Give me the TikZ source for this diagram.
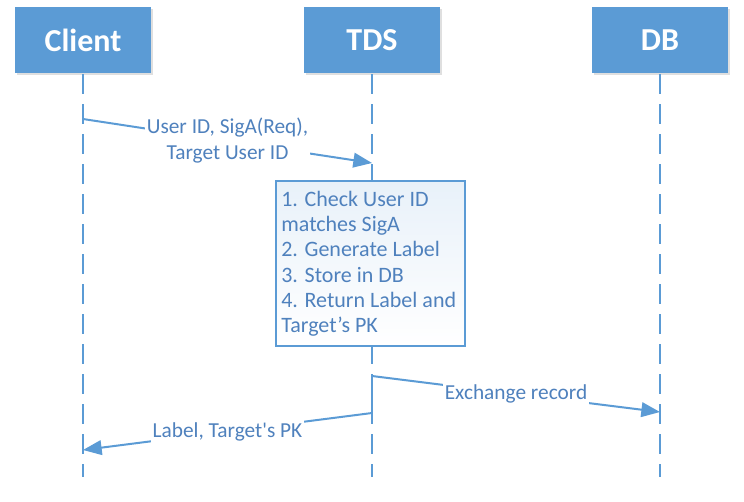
\documentclass[tikz,border=0pt]{standalone}
\usepackage{fontspec}
\setmainfont{Carlito}
\usepackage{xcolor}
\usetikzlibrary{positioning}
\usetikzlibrary{arrows.meta}
\usetikzlibrary{shadows}
\definecolor{officeblue}{RGB}{91,155,213}
\definecolor{textblue}{RGB}{79,129,189}

\begin{document}
\begin{tikzpicture}[
  x=0.75pt, y=-0.75pt,
  line width=1.5pt,
  font=\fontsize{16}{19.5}\selectfont
]
\tikzset{
    actor/.style = {rectangle, fill=officeblue, text=white, font=\fontsize{24}{28}\selectfont\bfseries,
                    minimum width=102pt, minimum height=50pt, drop shadow={opacity=0.25,shadow xshift=1.5pt,shadow yshift=-1.5pt}},
    lifeline/.style = {draw=officeblue, dash pattern=on 15pt off 7.5pt},
    msg/.style = {draw=officeblue, -{Triangle[length=14pt,width=11pt]}},
    msglabel/.style = {midway, fill=white, text=textblue, inner sep=1.5pt, align=center},
    process/.style = {rectangle, draw=officeblue, top color=officeblue!14, bottom color=white, text=textblue,
                      font=\fontsize{16.5}{19}\selectfont, align=flush left, text width=133.5pt, inner sep=4pt,
                      minimum height=124pt, anchor=north west}
}
\useasboundingbox (0,0) rectangle (744,501);
% lanes
\node[actor] (client) at (83,40) {Client};
\node[actor] (tds) at (372,40) {TDS};
\node[actor] (db) at (660,40) {DB};
\coordinate (clientEnd) at (83,477);
\coordinate (tdsEnd) at (372,477);
\coordinate (dbEnd) at (660,477);
\draw[lifeline] (client) -- (clientEnd);
\draw[lifeline] (tds) -- (tdsEnd);
\draw[lifeline] (db) -- (dbEnd);
% request
\coordinate (reqFrom) at (83,119);
\coordinate (reqTo) at (372,163);
\draw[msg] (reqFrom) -- (reqTo) node[msglabel] {User ID, SigA(Req),\\Target User ID};
\node[process] (check) at (275,180) {1. Check User ID\\matches SigA\\2. Generate Label\\3. Store in DB\\4. Return Label and\\Target’s PK};
% exchange and reply
\coordinate (exFrom) at (372,376);
\coordinate (exTo) at (660,412);
\coordinate (repFrom) at (372,413);
\coordinate (repTo) at (83,450);
\draw[officeblue] (exFrom) -- (repFrom);
\draw[msg] (exFrom) -- (exTo) node[msglabel] {Exchange record};
\draw[msg] (repFrom) -- (repTo) node[msglabel] {Label, Target\textquotesingle s PK};
\end{tikzpicture}
\end{document}
